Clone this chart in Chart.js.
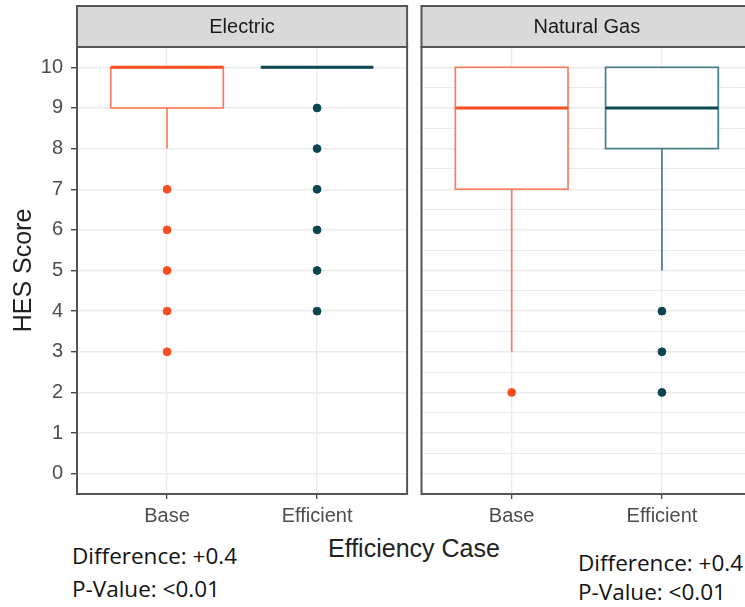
<!DOCTYPE html>
<html>
<head>
<meta charset="utf-8">
<script src="https://cdn.jsdelivr.net/npm/chart.js@4"></script>
<style>
  html, body { margin: 0; padding: 0; background: #fff; overflow: hidden; }
  #wrap { position: relative; width: 745px; height: 607px; overflow: hidden; }
  .panel { position: absolute; top: 0; height: 530px; }
  .txt { position: absolute; white-space: nowrap; line-height: 1; }
  .axis-title { font-family: "Liberation Sans", Arial, sans-serif; font-size: 25px; color: #222; }
  .note { font-family: "Open Sans", "Noto Sans", sans-serif; font-size: 22.5px; color: #111; }
</style>
</head>
<body>
<div id="wrap">
  <div class="panel" style="left:0;width:412px"><canvas id="elec"></canvas></div>
  <div class="panel" style="left:412px;width:345px"><canvas id="gas"></canvas></div>
  <div class="txt axis-title" style="left:328px;top:536px">Efficiency Case</div>
  <div class="txt note" style="left:72px;top:545px">Difference: +0.4</div>
  <div class="txt note" style="left:72px;top:578px">P-Value: &lt;0.01</div>
  <div class="txt note" style="left:578px;top:552px">Difference: +0.4</div>
  <div class="txt note" style="left:578px;top:581px">P-Value: &lt;0.01</div>
</div>
<script>
// Categories and facets
const cases = ['Base', 'Efficient'];
const yTicks = [0, 1, 2, 3, 4, 5, 6, 7, 8, 9, 10];

// Electric: box stats per case [Base, Efficient]
const elecLower = [8, 10];
const elecQ1 = [9, 10];
const elecMedian = [10, 10];
const elecQ3 = [10, 10];
const elecUpper = [10, 10];
const elecOutliers = [[7, 6, 5, 4, 3], [9, 8, 7, 6, 5, 4]];

// Natural Gas
const gasLower = [3, 5];
const gasQ1 = [7, 8];
const gasMedian = [9, 9];
const gasQ3 = [10, 10];
const gasUpper = [10, 10];
const gasOutliers = [[2], [4, 3, 2]];

// Colors per case
const boxStroke = ['#fc7d5e', '#437f88'];
const medianColor = ['#fc4d20', '#0d4953'];
const pointColor = ['#fc4d20', '#0b4650'];
const BOX_WIDTH = 0.75;
const FONT = '"Liberation Sans", Arial, sans-serif';

function facetPlugin(title, stats) {
  return {
    id: 'facet',
    beforeDatasetsDraw(chart) {
      const { ctx, scales: { x, y } } = chart;
      ctx.save();
      cases.forEach((c, i) => {
        const cx = x.getPixelForValue(i + 1);
        const x0 = x.getPixelForValue(i + 1 - BOX_WIDTH / 2);
        const x1 = x.getPixelForValue(i + 1 + BOX_WIDTH / 2);
        const yq1 = y.getPixelForValue(stats.q1[i]);
        const yq3 = y.getPixelForValue(stats.q3[i]);
        ctx.strokeStyle = boxStroke[i];
        ctx.lineWidth = 1.7;
        // whiskers
        ctx.beginPath();
        ctx.moveTo(cx, yq1);
        ctx.lineTo(cx, y.getPixelForValue(stats.lower[i]));
        ctx.moveTo(cx, yq3);
        ctx.lineTo(cx, y.getPixelForValue(stats.upper[i]));
        ctx.stroke();
        // box
        ctx.fillStyle = '#fff';
        ctx.fillRect(x0, yq3, x1 - x0, yq1 - yq3);
        ctx.strokeRect(x0, yq3, x1 - x0, yq1 - yq3);
        // median
        const ym = y.getPixelForValue(stats.median[i]);
        ctx.strokeStyle = medianColor[i];
        ctx.lineWidth = 3;
        ctx.beginPath();
        ctx.moveTo(x0, ym);
        ctx.lineTo(x1, ym);
        ctx.stroke();
      });
      ctx.restore();
    },
    afterDraw(chart) {
      const { ctx, chartArea: a } = chart;
      const stripTop = 6;
      ctx.save();
      ctx.fillStyle = '#d9d9d9';
      ctx.fillRect(a.left, stripTop, a.right - a.left, a.top - stripTop);
      ctx.strokeStyle = '#555';
      ctx.lineWidth = 2;
      ctx.strokeRect(a.left, stripTop, a.right - a.left, a.top - stripTop);
      ctx.strokeRect(a.left, a.top, a.right - a.left, a.bottom - a.top);
      ctx.fillStyle = '#1a1a1a';
      ctx.font = '20px ' + FONT;
      ctx.textAlign = 'center';
      ctx.textBaseline = 'middle';
      ctx.fillText(title, (a.left + a.right) / 2, (stripTop + a.top) / 2 + 1);
      ctx.restore();
    }
  };
}

function makeChart(id, title, stats, outliers, showY, padding) {
  const datasets = cases.map((c, i) => ({
    label: c,
    data: outliers[i].map(v => ({ x: i + 1, y: v })),
    backgroundColor: pointColor[i],
    borderColor: pointColor[i],
    pointRadius: 3.9,
    pointHoverRadius: 3.9
  }));
  const tickFont = { family: FONT, size: 20 };
  return new Chart(document.getElementById(id), {
    type: 'scatter',
    data: { datasets },
    options: {
      responsive: true,
      maintainAspectRatio: false,
      animation: false,
      layout: { padding },
      plugins: { legend: { display: false }, tooltip: { enabled: false } },
      scales: {
        x: {
          type: 'linear',
          min: 0.4,
          max: 2.6,
          afterBuildTicks: axis => { axis.ticks = cases.map((c, i) => ({ value: i + 1 })); },
          afterFit: axis => { axis.height = 36; },
          ticks: {
            callback: v => cases[v - 1],
            color: '#4d4d4d',
            font: tickFont,
            padding: 5,
            maxRotation: 0
          },
          grid: { color: '#ebebeb', lineWidth: 1.3, tickColor: '#444', tickLength: 5 },
          border: { display: false }
        },
        y: {
          min: -0.5,
          max: 10.5,
          afterBuildTicks: axis => {
            const t = [];
            yTicks.forEach(v => { t.push({ value: v }); t.push({ value: v + 0.5 }); });
            axis.ticks = t;
          },
          afterFit: axis => { axis.width = showY ? 77 : 0; },
          ticks: {
            display: showY,
            callback: v => (yTicks.includes(v) ? String(v) : ''),
            color: '#4d4d4d',
            font: tickFont,
            padding: 8
          },
          grid: {
            color: '#ebebeb',
            lineWidth: ctx => (ctx.tick && ctx.tick.value % 1 ? 1 : 1.4),
            tickColor: ctx => (ctx.tick && ctx.tick.value % 1 ? 'rgba(0,0,0,0)' : '#444'),
            tickLength: 6,
            drawTicks: showY
          },
          border: { display: false },
          title: {
            display: showY,
            text: 'HES Score',
            color: '#222',
            font: { family: FONT, size: 25 },
            padding: { top: 9, bottom: 0 }
          }
        }
      }
    },
    plugins: [facetPlugin(title, stats)]
  });
}

makeChart('elec', 'Electric',
  { lower: elecLower, q1: elecQ1, median: elecMedian, q3: elecQ3, upper: elecUpper },
  elecOutliers, true, { top: 47, left: 0, right: 3, bottom: 0 });

makeChart('gas', 'Natural Gas',
  { lower: gasLower, q1: gasQ1, median: gasMedian, q3: gasQ3, upper: gasUpper },
  gasOutliers, false, { top: 47, left: 9.5, right: 3.5, bottom: 0 });
</script>
</body>
</html>
